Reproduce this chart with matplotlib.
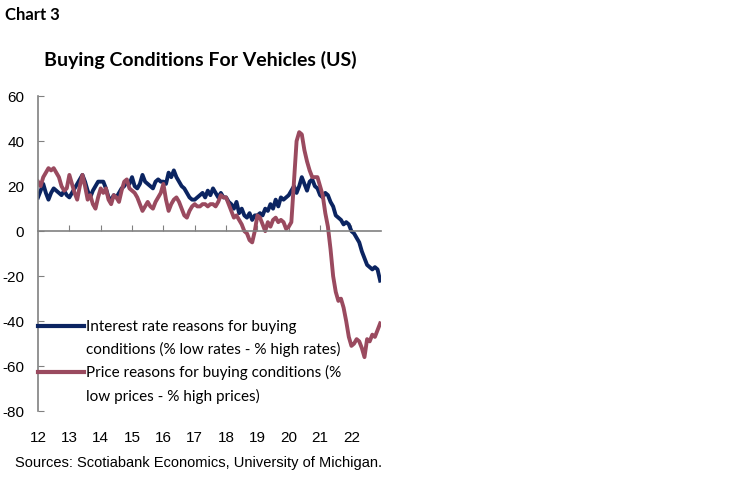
import numpy as np
import matplotlib.pyplot as plt
from matplotlib.lines import Line2D

START_YEAR = 2012

# Interest rate reasons for buying conditions, monthly Jan 2012 - Dec 2022
interest_rate = [
    15, 18, 21, 17, 14, 17, 19, 18, 17, 16, 18, 16,
    15, 17, 19, 21, 23, 25, 22, 18, 15, 18, 20, 22,
    22, 22, 19, 15, 14, 16, 15, 17, 19, 20, 22, 21,
    24, 20, 19, 21, 25, 22, 21, 20, 19, 22, 23, 22,
    22, 21, 26, 24, 27, 24, 22, 20, 19, 17, 15, 14,
    14, 15, 16, 17, 15, 18, 16, 19, 17, 15, 17, 15,
    15, 13, 12, 10, 13, 8, 10, 7, 6, 8, 5, 7,
    7, 8, 7, 10, 9, 12, 10, 14, 11, 15, 14, 15,
    16, 18, 20, 17, 20, 24, 21, 18, 22, 23, 20, 19,
    16, 15, 17, 16, 13, 11, 7, 6, 5, 3, 4, 3,
    0, -1, -3, -5, -9, -12, -15, -16, -17, -16, -17, -22,
]

# Price reasons for buying conditions, monthly Jan 2012 - Dec 2022
price = [
    22, 20, 24, 26, 28, 27, 28, 26, 24, 20, 18, 19,
    25, 21, 17, 14, 20, 25, 20, 14, 16, 12, 10, 15,
    19, 17, 19, 14, 12, 16, 15, 13, 18, 22, 23, 19,
    18, 17, 15, 12, 9, 11, 13, 11, 10, 13, 15, 17,
    21, 14, 9, 12, 14, 15, 13, 10, 7, 6, 9, 11,
    12, 11, 11, 12, 12, 11, 12, 12, 11, 13, 16, 15,
    15, 12, 9, 6, 7, 5, 3, 0, -1, -4, -5, 0,
    7, 6, 3, 0, 4, 2, 5, 6, 4, 5, 4, 1,
    2, 4, 22, 40, 44, 43, 36, 31, 27, 24, 24, 24,
    20, 16, 8, 2, -8, -20, -27, -31, -30, -34, -40, -47,
    -51, -50, -48, -49, -52, -56, -48, -49, -46, -47, -44, -41,
]

year_ticks = list(range(2012, 2023))
year_labels = ["12", "13", "14", "15", "16", "17", "18", "19", "20", "21", "22"]
y_ticks = [-80, -60, -40, -20, 0, 20, 40, 60]

# legend text, two lines per series (handle sits on the first line)
rate_label = ["Interest rate reasons for buying",
              "conditions (% low rates - % high rates)"]
price_label = ["Price reasons for buying conditions (%",
               "low prices - % high prices)"]

BLUE = "#0b2461"
RED = "#9a4a5f"
GREY = "#808080"

dates = START_YEAR + np.arange(len(interest_rate)) / 12

fig = plt.figure(figsize=(7.5, 4.82), dpi=100)
ax = fig.add_axes([0.0507, 0.147, 0.457, 0.6535])

ax.plot(dates, interest_rate, color=BLUE, lw=2.8, solid_joinstyle="round")
ax.plot(dates, price, color=RED, lw=2.8, solid_joinstyle="round")

ax.set_ylim(-80, 60)
ax.set_xlim(START_YEAR, dates[-1] + 0.02)
ax.set_yticks(y_ticks)
ax.set_yticklabels([str(v) for v in y_ticks], family="Liberation Sans", fontsize=11)

for side in ["top", "right"]:
    ax.spines[side].set_visible(False)
ax.spines["left"].set_color(GREY)
ax.spines["left"].set_linewidth(1.2)
ax.spines["bottom"].set_position(("data", 0))
ax.spines["bottom"].set_color(GREY)
ax.spines["bottom"].set_linewidth(1.2)

ax.tick_params(axis="y", direction="in", length=4, color=GREY, pad=10)
ax.set_xticks(year_ticks[1:])
ax.tick_params(axis="x", direction="in", length=4, color=GREY, labelbottom=False)

# year labels sit below the plot, not on the zero line
sec = ax.secondary_xaxis("bottom")
sec.set_xticks(year_ticks)
sec.set_xticklabels(year_labels, family="Liberation Sans", fontsize=11)
sec.tick_params(length=0, pad=14)
sec.spines["bottom"].set_visible(False)

blank = Line2D([], [], color="none")
handles = [Line2D([], [], color=BLUE, lw=3), blank,
           Line2D([], [], color=RED, lw=3), blank]
labels = [rate_label[0], rate_label[1], price_label[0], price_label[1]]
ax.legend(handles, labels, loc="upper left", bbox_to_anchor=(0.0, 0.289),
          frameon=False, prop={"family": "Lato", "size": 11}, handlelength=3.0,
          handletextpad=0.15, labelspacing=0.53, borderaxespad=0.0, borderpad=0.0)

fig.text(0.007, 0.968, "Chart 3", family="Lato", weight="bold", fontsize=12,
         va="center", ha="left")
fig.text(0.267, 0.876, "Buying Conditions For Vehicles (US)", family="Lato",
         weight="bold", fontsize=14, va="center", ha="center")
fig.text(0.02, 0.04, "Sources: Scotiabank Economics, University of Michigan.",
         family="Liberation Sans", fontsize=10.5, va="center", ha="left")

fig.savefig("out.png", dpi=100)
